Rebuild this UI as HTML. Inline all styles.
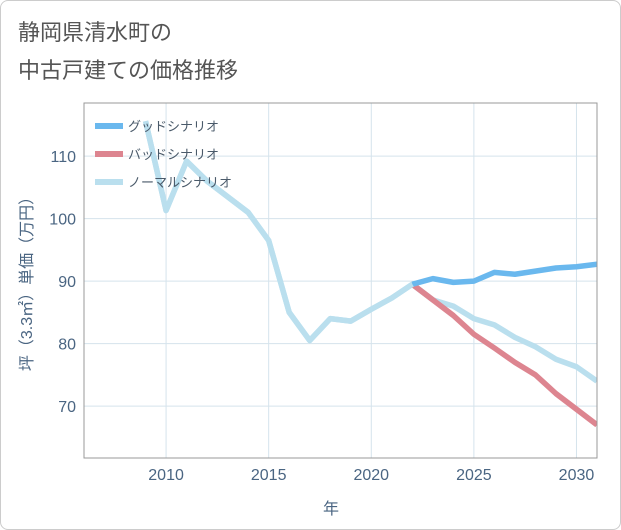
<!DOCTYPE html>
<html><head><meta charset="utf-8"><style>
body{margin:0;background:#fff;font-family:"Liberation Sans","Noto Sans CJK JP",sans-serif;}
#card{position:absolute;left:0;top:0;width:619px;height:528px;border:1px solid #ccc;border-radius:8px;background:#fff;}
</style></head><body>
<div id="card"></div>
<svg id="c" width="621" height="530" style="position:absolute;left:0;top:0">
<text x="18" y="40" font-size="22" fill="#555">静岡県清水町の</text>
<text x="18" y="78" font-size="22" fill="#555">中古戸建ての価格推移</text>
<g id="grid"></g><g id="lines"></g><g id="axes"></g>
<text x="331" y="514" font-size="16" fill="#4a6582" text-anchor="middle">年</text>
<text transform="translate(32,280) rotate(-90)" font-size="16" fill="#4a6582" text-anchor="middle">坪（3.3㎡）単価（万円）</text>
</svg>
<script>
const years=[2009,2010,2011,2012,2013,2014,2015,2016,2017,2018,2019,2020,2021,2022,2023,2024,2025,2026,2027,2028,2029,2030,2031];
const normal=[115.6,101.3,109.2,106,103.5,101,96.5,85,80.5,84,83.6,85.5,87.3,89.5,87,86,84,83,81,79.5,77.5,76.3,74];
const fYears=[2022,2023,2024,2025,2026,2027,2028,2029,2030,2031];
const good=[89.5,90.4,89.8,90,91.4,91.1,91.6,92.1,92.3,92.7];
const bad=[89.5,87,84.5,81.5,79.3,77,75,72,69.5,67];
const xTicks=[2010,2015,2020,2025,2030];
const yTicks=[70,80,90,100,110];
const L=84,R=597,T=103,B=458,x0=2006,x1=2031,y0=61.7,y1=118.5;
const X=v=>L+(v-x0)/(x1-x0)*(R-L), Y=v=>B-(v-y0)/(y1-y0)*(B-T);
const NS='http://www.w3.org/2000/svg';
function mk(p,t,a){const e=document.createElementNS(NS,t);for(const k in a)e.setAttribute(k,a[k]);document.getElementById(p).appendChild(e);return e;}
xTicks.forEach(v=>{const l=mk('grid','line',{x1:X(v),x2:X(v),y1:T,y2:B,stroke:'#d5e3ec'});


const t=mk('axes','text',{x:X(v),y:B+22,'font-size':16,fill:'#4a6582','text-anchor':'middle'});t.textContent=v;

});
yTicks.forEach(v=>{const l=mk('grid','line',{x1:L,x2:R,y1:Y(v),y2:Y(v),stroke:'#d5e3ec'});


const t=mk('axes','text',{x:L-8,y:Y(v)+6,'font-size':16,fill:'#4a6582','text-anchor':'end'});t.textContent=v;

});
const fr=mk('axes','rect',{x:L,y:T,width:R-L,height:B-T,fill:'none',stroke:'#999'});


const cp=mk('grid','clipPath',{id:'cp'});
const cr=document.createElementNS(NS,'rect');cp.appendChild(cr);
cr.setAttribute('x',L);cr.setAttribute('y',T);cr.setAttribute('width',R-L);cr.setAttribute('height',B-T);
function line(xs,ys,col,name){const p=mk('lines','polyline',{points:xs.map((x,i)=>X(x)+','+Y(ys[i])).join(' '),fill:'none',stroke:col,'stroke-width':5.5,'stroke-linejoin':'round','clip-path':'url(#cp)'});

}
line(years,normal,'#badfee','normal-scenario-line');
line(fYears,bad,'#dd8590','bad-scenario-line');
line(fYears,good,'#6ab8ee','good-scenario-line');
line(years.slice(0,14),normal.slice(0,14),'#badfee','normal-scenario-line-past');
const leg=[['グッドシナリオ','#6ab8ee'],['バッドシナリオ','#dd8590'],['ノーマルシナリオ','#badfee']];
leg.forEach((d,i)=>{const y=126+i*28;
const r=mk('axes','rect',{x:95,y:y-3,width:28,height:6,fill:d[1]});


const t=mk('axes','text',{x:128,y:y+5,'font-size':13,fill:'#4a5a6a'});t.textContent=d[0];

});
</script>
</body></html>
